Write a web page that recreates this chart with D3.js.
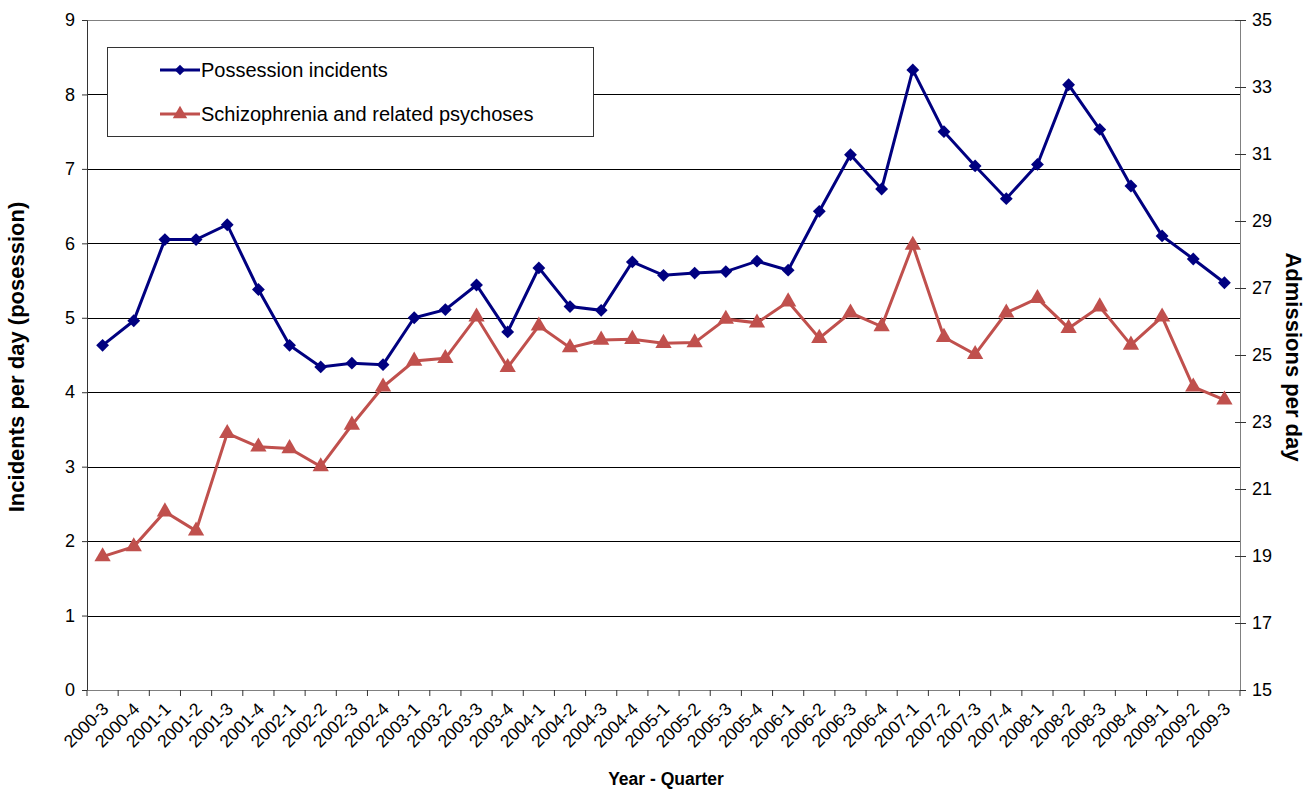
<!DOCTYPE html>
<html><head><meta charset="utf-8">
<script src="https://cdn.jsdelivr.net/npm/d3@7"></script>
<style>body{margin:0;background:#fff;} svg{display:block;font-family:"Liberation Sans",Arial,sans-serif;} svg text{font-family:"Liberation Sans",Arial,sans-serif;}</style>
</head><body>
<svg id="chart" width="1306" height="789"></svg>
<script>
const categories = ["2000-3","2000-4","2001-1","2001-2","2001-3","2001-4","2002-1","2002-2","2002-3","2002-4",
"2003-1","2003-2","2003-3","2003-4","2004-1","2004-2","2004-3","2004-4","2005-1","2005-2","2005-3","2005-4",
"2006-1","2006-2","2006-3","2006-4","2007-1","2007-2","2007-3","2007-4","2008-1","2008-2","2008-3","2008-4",
"2009-1","2009-2","2009-3"];
const possession = [4.63,4.96,6.05,6.05,6.25,5.38,4.63,4.34,4.39,4.37,5.00,5.11,5.44,4.81,5.67,5.15,5.10,5.75,
5.57,5.60,5.62,5.76,5.64,6.43,7.19,6.73,8.33,7.50,7.04,6.60,7.06,8.13,7.53,6.77,6.10,5.79,5.47];
const schizophrenia = [18.98,19.28,20.32,19.75,22.66,22.26,22.21,21.67,22.91,24.05,24.82,24.90,26.14,24.63,25.87,25.22,25.45,25.47,
25.35,25.37,26.07,25.96,26.59,25.50,26.26,25.85,28.28,25.53,25.02,26.26,26.69,25.80,26.44,25.30,26.14,24.05,23.66];
const leftTicks = [0,1,2,3,4,5,6,7,8,9];
const rightTicks = [15,17,19,21,23,25,27,29,31,33,35];
const seriesNames = ["Possession incidents","Schizophrenia and related psychoses"];

const svg = d3.select("#chart");
const m = {l:87, r:1240, t:20, b:690};
const x = d3.scaleBand().domain(categories).range([m.l, m.r]);
const yL = d3.scaleLinear().domain([0,9]).range([m.b, m.t]);
const yR = d3.scaleLinear().domain([15,35]).range([m.b, m.t]);

// gridlines
svg.append("g").selectAll("line").data(leftTicks.filter(d=>d>0)).join("line")
  .attr("x1", m.l).attr("x2", m.r).attr("y1", d=>Math.round(yL(d))+0.5).attr("y2", d=>Math.round(yL(d))+0.5)
  .attr("stroke", d=>d===9?"#808080":"#000").attr("stroke-width",1);

// left axis
const gL = svg.append("g").attr("transform",`translate(${m.l},0)`)
  .call(d3.axisLeft(yL).tickValues(leftTicks).tickSize(5).tickPadding(7).tickFormat(d3.format("d")));
gL.select(".domain").attr("stroke","#333");
gL.selectAll(".tick line").attr("stroke","#333");
gL.selectAll("text").attr("font-size",18).attr("fill","#000").attr("font-family","Liberation Sans, Arial");

// right axis
const gR = svg.append("g").attr("transform",`translate(${m.r},0)`)
  .call(d3.axisRight(yR).tickValues(rightTicks).tickSize(6).tickPadding(6).tickFormat(d3.format("d")));
gR.select(".domain").attr("stroke","#808080");
gR.selectAll(".tick line").attr("stroke","#333").attr("x1",-5);
gR.selectAll("text").attr("font-size",18).attr("fill","#000").attr("font-family","Liberation Sans, Arial");

// bottom axis
const gB = svg.append("g").attr("transform",`translate(0,${m.b})`);
gB.append("line").attr("x1",m.l).attr("x2",m.r).attr("y1",0.5).attr("y2",0.5).attr("stroke","#808080");
const bounds = categories.map((c,i)=>x(c)).concat([m.r]);
gB.selectAll("line.tk").data(bounds).join("line").attr("class","tk")
  .attr("x1",d=>d).attr("x2",d=>d).attr("y1",0).attr("y2",6).attr("stroke","#333");
gB.selectAll("text").data(categories).join("text")
  .attr("transform",d=>`translate(${x(d)+x.bandwidth()/2+7},${20}) rotate(-45)`)
  .attr("text-anchor","end").attr("font-size",17.5).attr("fill","#000").text(d=>d);

// axis titles
svg.append("text").attr("transform",`translate(24,357) rotate(-90)`)
  .attr("text-anchor","middle").attr("font-size",22).attr("font-weight","bold").text("Incidents per day (posession)");
svg.append("text").attr("transform",`translate(1286,357) rotate(90)`)
  .attr("text-anchor","middle").attr("font-size",22).attr("font-weight","bold").text("Admissions per day");
svg.append("text").attr("x",666).attr("y",785).attr("text-anchor","middle")
  .attr("font-size",17.5).attr("font-weight","bold").text("Year - Quarter");

const cx = d => x(d)+x.bandwidth()/2;
const blue = "#000080", red = "#C0504D";

// red series
svg.append("path").datum(schizophrenia)
  .attr("d", d3.line().x((d,i)=>cx(categories[i])).y(d=>yR(d)))
  .attr("fill","none").attr("stroke",red).attr("stroke-width",3);
const tri = d3.symbol().type(d3.symbolTriangle).size(115);
svg.append("g").selectAll("path").data(schizophrenia).join("path")
  .attr("d",tri).attr("transform",(d,i)=>`translate(${cx(categories[i])},${yR(d)})`).attr("fill",red);

// blue series
svg.append("path").datum(possession)
  .attr("d", d3.line().x((d,i)=>cx(categories[i])).y(d=>yL(d)))
  .attr("fill","none").attr("stroke",blue).attr("stroke-width",3);
const dia = d3.symbol().type(d3.symbolDiamond2).size(105);
svg.append("g").selectAll("path").data(possession).join("path")
  .attr("d",dia).attr("transform",(d,i)=>`translate(${cx(categories[i])},${yL(d)})`).attr("fill",blue);

// legend
const lg = svg.append("g");
lg.append("rect").attr("x",107.5).attr("y",47.5).attr("width",486).attr("height",89)
  .attr("fill","#fff").attr("stroke","#333");
const items = [{n:seriesNames[0],c:blue,s:d3.symbol().type(d3.symbolDiamond2).size(70),y:70},
               {n:seriesNames[1],c:red,s:d3.symbol().type(d3.symbolTriangle).size(90),y:114}];
items.forEach(it=>{
  lg.append("line").attr("x1",160).attr("x2",200).attr("y1",it.y).attr("y2",it.y).attr("stroke",it.c).attr("stroke-width",3);
  lg.append("path").attr("d",it.s).attr("transform",`translate(180,${it.y})`).attr("fill",it.c);
  lg.append("text").attr("x",201).attr("y",it.y+7).attr("font-size",20).attr("fill","#000").text(it.n);
});
</script>
</body></html>
